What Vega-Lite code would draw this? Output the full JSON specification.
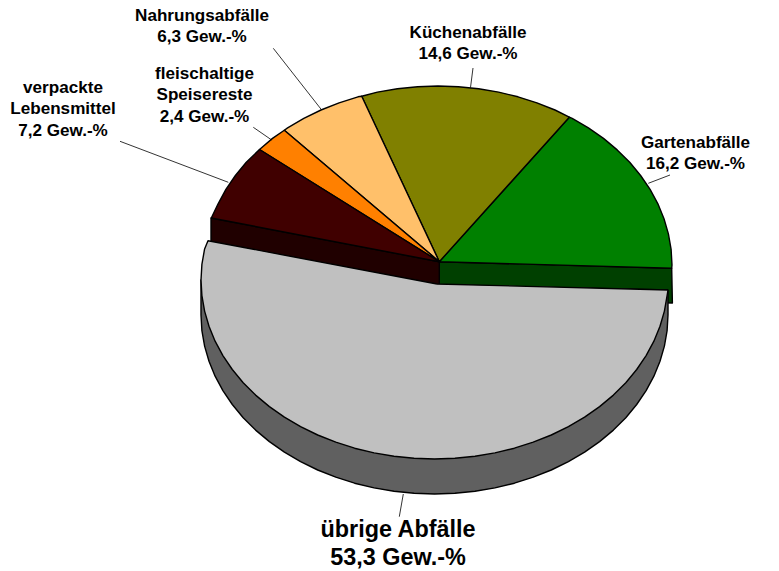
{"$schema":"https://vega.github.io/schema/vega-lite/v6.json","width":779,"height":571,"padding":0,"autosize":"none","background":"white","view":{"stroke":null},
"datasets":{"outline":[
{"s":"Gartenabfälle Wand","i":1,"x":439.3,"y":261.7},{"s":"Gartenabfälle Wand","i":2,"x":671.7,"y":268.3},{"s":"Gartenabfälle Wand","i":3,"x":672.4,"y":303},{"s":"Gartenabfälle Wand","i":4,"x":439.3,"y":297},{"s":"Gartenabfälle Wand","i":5,"x":439.3,"y":261.7},
{"s":"verpackte Lebensmittel Wand","i":6,"x":439.3,"y":261.7},{"s":"verpackte Lebensmittel Wand","i":7,"x":211,"y":218},{"s":"verpackte Lebensmittel Wand","i":8,"x":211,"y":253},{"s":"verpackte Lebensmittel Wand","i":9,"x":439.3,"y":297},{"s":"verpackte Lebensmittel Wand","i":10,"x":439.3,"y":261.7},
{"s":"Gartenabfälle","i":11,"x":439.3,"y":261.7},{"s":"Gartenabfälle","i":12,"x":671.7,"y":268.3},{"s":"Gartenabfälle","i":13,"x":672,"y":265},{"s":"Gartenabfälle","i":14,"x":671.1,"y":249.4},{"s":"Gartenabfälle","i":15,"x":668.4,"y":233.9},{"s":"Gartenabfälle","i":16,"x":664,"y":218.7},{"s":"Gartenabfälle","i":17,"x":657.9,"y":203.8},{"s":"Gartenabfälle","i":18,"x":650.1,"y":189.4},{"s":"Gartenabfälle","i":19,"x":640.6,"y":175.5},{"s":"Gartenabfälle","i":20,"x":629.7,"y":162.3},{"s":"Gartenabfälle","i":21,"x":617.2,"y":149.9},{"s":"Gartenabfälle","i":22,"x":603.5,"y":138.4},{"s":"Gartenabfälle","i":23,"x":588.4,"y":127.9},{"s":"Gartenabfälle","i":24,"x":572.2,"y":118.4},{"s":"Gartenabfälle","i":25,"x":569.3,"y":117.2},{"s":"Gartenabfälle","i":26,"x":439.3,"y":261.7},
{"s":"Küchenabfälle","i":27,"x":439.3,"y":261.7},{"s":"Küchenabfälle","i":28,"x":569.3,"y":117.2},{"s":"Küchenabfälle","i":29,"x":555,"y":110},{"s":"Küchenabfälle","i":30,"x":536.9,"y":102.8},{"s":"Küchenabfälle","i":31,"x":518,"y":96.8},{"s":"Küchenabfälle","i":32,"x":498.6,"y":92.1},{"s":"Küchenabfälle","i":33,"x":478.6,"y":88.7},{"s":"Küchenabfälle","i":34,"x":458.4,"y":86.7},{"s":"Küchenabfälle","i":35,"x":438,"y":86},{"s":"Küchenabfälle","i":36,"x":417.6,"y":86.7},{"s":"Küchenabfälle","i":37,"x":397.4,"y":88.7},{"s":"Küchenabfälle","i":38,"x":377.4,"y":92.1},{"s":"Küchenabfälle","i":39,"x":361.7,"y":96.2},{"s":"Küchenabfälle","i":40,"x":439.3,"y":261.7},
{"s":"Nahrungsabfälle","i":41,"x":439.3,"y":261.7},{"s":"Nahrungsabfälle","i":42,"x":361.7,"y":96.2},{"s":"Nahrungsabfälle","i":43,"x":358,"y":96.8},{"s":"Nahrungsabfälle","i":44,"x":339.1,"y":102.8},{"s":"Nahrungsabfälle","i":45,"x":321,"y":110},{"s":"Nahrungsabfälle","i":46,"x":303.8,"y":118.4},{"s":"Nahrungsabfälle","i":47,"x":287.6,"y":127.9},{"s":"Nahrungsabfälle","i":48,"x":284.3,"y":130.2},{"s":"Nahrungsabfälle","i":49,"x":439.3,"y":261.7},
{"s":"fleischaltige Speisereste","i":50,"x":439.3,"y":261.7},{"s":"fleischaltige Speisereste","i":51,"x":284.3,"y":130.2},{"s":"fleischaltige Speisereste","i":52,"x":272.5,"y":138.4},{"s":"fleischaltige Speisereste","i":53,"x":259.5,"y":149.5},{"s":"fleischaltige Speisereste","i":54,"x":439.3,"y":261.7},
{"s":"verpackte Lebensmittel","i":55,"x":439.3,"y":261.7},{"s":"verpackte Lebensmittel","i":56,"x":259.5,"y":149.5},{"s":"verpackte Lebensmittel","i":57,"x":246.3,"y":162.3},{"s":"verpackte Lebensmittel","i":58,"x":235.4,"y":175.5},{"s":"verpackte Lebensmittel","i":59,"x":225.9,"y":189.4},{"s":"verpackte Lebensmittel","i":60,"x":218.1,"y":203.8},{"s":"verpackte Lebensmittel","i":61,"x":211.3,"y":218},{"s":"verpackte Lebensmittel","i":62,"x":439.3,"y":261.7},
{"s":"übrige Abfälle Wand","i":63,"x":668,"y":290},{"s":"übrige Abfälle Wand","i":64,"x":668,"y":315},{"s":"übrige Abfälle Wand","i":65,"x":667.1,"y":330.6},{"s":"übrige Abfälle Wand","i":66,"x":664.4,"y":346.1},{"s":"übrige Abfälle Wand","i":67,"x":660,"y":361.3},{"s":"übrige Abfälle Wand","i":68,"x":653.9,"y":376.2},{"s":"übrige Abfälle Wand","i":69,"x":646.1,"y":390.6},{"s":"übrige Abfälle Wand","i":70,"x":636.7,"y":404.5},{"s":"übrige Abfälle Wand","i":71,"x":625.8,"y":417.7},{"s":"übrige Abfälle Wand","i":72,"x":613.4,"y":430.1},{"s":"übrige Abfälle Wand","i":73,"x":599.6,"y":441.6},{"s":"übrige Abfälle Wand","i":74,"x":584.6,"y":452.1},{"s":"übrige Abfälle Wand","i":75,"x":568.4,"y":461.6},{"s":"übrige Abfälle Wand","i":76,"x":551.3,"y":470},{"s":"übrige Abfälle Wand","i":77,"x":533.2,"y":477.2},{"s":"übrige Abfälle Wand","i":78,"x":514.4,"y":483.2},{"s":"übrige Abfälle Wand","i":79,"x":494.9,"y":487.9},{"s":"übrige Abfälle Wand","i":80,"x":475,"y":491.3},{"s":"übrige Abfälle Wand","i":81,"x":454.9,"y":493.3},{"s":"übrige Abfälle Wand","i":82,"x":434.5,"y":494},{"s":"übrige Abfälle Wand","i":83,"x":414.1,"y":493.3},{"s":"übrige Abfälle Wand","i":84,"x":394,"y":491.3},{"s":"übrige Abfälle Wand","i":85,"x":374.1,"y":487.9},{"s":"übrige Abfälle Wand","i":86,"x":354.6,"y":483.2},{"s":"übrige Abfälle Wand","i":87,"x":335.8,"y":477.2},{"s":"übrige Abfälle Wand","i":88,"x":317.7,"y":470},{"s":"übrige Abfälle Wand","i":89,"x":300.6,"y":461.6},{"s":"übrige Abfälle Wand","i":90,"x":284.4,"y":452.1},{"s":"übrige Abfälle Wand","i":91,"x":269.4,"y":441.6},{"s":"übrige Abfälle Wand","i":92,"x":255.6,"y":430.1},{"s":"übrige Abfälle Wand","i":93,"x":243.2,"y":417.7},{"s":"übrige Abfälle Wand","i":94,"x":232.3,"y":404.5},{"s":"übrige Abfälle Wand","i":95,"x":222.9,"y":390.6},{"s":"übrige Abfälle Wand","i":96,"x":215.1,"y":376.2},{"s":"übrige Abfälle Wand","i":97,"x":209,"y":361.3},{"s":"übrige Abfälle Wand","i":98,"x":204.6,"y":346.1},{"s":"übrige Abfälle Wand","i":99,"x":201.9,"y":330.6},{"s":"übrige Abfälle Wand","i":100,"x":201,"y":315},{"s":"übrige Abfälle Wand","i":101,"x":201,"y":280},{"s":"übrige Abfälle Wand","i":102,"x":668,"y":290},
{"s":"übrige Abfälle","i":103,"x":437,"y":284},{"s":"übrige Abfälle","i":104,"x":208,"y":240.7},{"s":"übrige Abfälle","i":105,"x":204.6,"y":248.9},{"s":"übrige Abfälle","i":106,"x":201.9,"y":264.4},{"s":"übrige Abfälle","i":107,"x":201,"y":280},{"s":"übrige Abfälle","i":108,"x":201.9,"y":295.6},{"s":"übrige Abfälle","i":109,"x":204.6,"y":311.1},{"s":"übrige Abfälle","i":110,"x":209,"y":326.3},{"s":"übrige Abfälle","i":111,"x":215.1,"y":341.2},{"s":"übrige Abfälle","i":112,"x":222.9,"y":355.6},{"s":"übrige Abfälle","i":113,"x":232.3,"y":369.5},{"s":"übrige Abfälle","i":114,"x":243.2,"y":382.7},{"s":"übrige Abfälle","i":115,"x":255.6,"y":395.1},{"s":"übrige Abfälle","i":116,"x":269.4,"y":406.6},{"s":"übrige Abfälle","i":117,"x":284.4,"y":417.1},{"s":"übrige Abfälle","i":118,"x":300.6,"y":426.6},{"s":"übrige Abfälle","i":119,"x":317.7,"y":435},{"s":"übrige Abfälle","i":120,"x":335.8,"y":442.2},{"s":"übrige Abfälle","i":121,"x":354.6,"y":448.2},{"s":"übrige Abfälle","i":122,"x":374.1,"y":452.9},{"s":"übrige Abfälle","i":123,"x":394,"y":456.3},{"s":"übrige Abfälle","i":124,"x":414.1,"y":458.3},{"s":"übrige Abfälle","i":125,"x":434.5,"y":459},{"s":"übrige Abfälle","i":126,"x":454.9,"y":458.3},{"s":"übrige Abfälle","i":127,"x":475,"y":456.3},{"s":"übrige Abfälle","i":128,"x":494.9,"y":452.9},{"s":"übrige Abfälle","i":129,"x":514.4,"y":448.2},{"s":"übrige Abfälle","i":130,"x":533.2,"y":442.2},{"s":"übrige Abfälle","i":131,"x":551.3,"y":435},{"s":"übrige Abfälle","i":132,"x":568.4,"y":426.6},{"s":"übrige Abfälle","i":133,"x":584.6,"y":417.1},{"s":"übrige Abfälle","i":134,"x":599.6,"y":406.6},{"s":"übrige Abfälle","i":135,"x":613.4,"y":395.1},{"s":"übrige Abfälle","i":136,"x":625.8,"y":382.7},{"s":"übrige Abfälle","i":137,"x":636.7,"y":369.5},{"s":"übrige Abfälle","i":138,"x":646.1,"y":355.6},{"s":"übrige Abfälle","i":139,"x":653.9,"y":341.2},{"s":"übrige Abfälle","i":140,"x":660,"y":326.3},{"s":"übrige Abfälle","i":141,"x":664.4,"y":311.1},{"s":"übrige Abfälle","i":142,"x":667.1,"y":295.6},{"s":"übrige Abfälle","i":143,"x":668,"y":290},{"s":"übrige Abfälle","i":144,"x":437,"y":284}
],
"leaders":[
{"s":"Gartenabfälle","i":1,"x":648.3,"y":183.3},{"s":"Gartenabfälle","i":2,"x":670,"y":175},
{"s":"Küchenabfälle","i":1,"x":470.5,"y":87.5},{"s":"Küchenabfälle","i":2,"x":473,"y":68},
{"s":"Nahrungsabfälle","i":1,"x":321.7,"y":110},{"s":"Nahrungsabfälle","i":2,"x":273.3,"y":48.3},
{"s":"fleischaltige Speisereste","i":1,"x":271.7,"y":140},{"s":"fleischaltige Speisereste","i":2,"x":253.3,"y":127.3},
{"s":"verpackte Lebensmittel","i":1,"x":228.3,"y":182.3},{"s":"verpackte Lebensmittel","i":2,"x":120,"y":141.3},
{"s":"übrige Abfälle","i":1,"x":403.3,"y":494},{"s":"übrige Abfälle","i":2,"x":399.3,"y":516.7}
],
"labels":[
{"label":"Gartenabfälle\n16,2 Gew.-%","share":16.2,"x":695.5,"y":143},
{"label":"Küchenabfälle\n14,6 Gew.-%","share":14.6,"x":468,"y":33},
{"label":"Nahrungsabfälle\n6,3 Gew.-%","share":6.3,"x":202,"y":16},
{"label":"fleischaltige\nSpeisereste\n2,4 Gew.-%","share":2.4,"x":204.5,"y":74.3},
{"label":"verpackte\nLebensmittel\n7,2 Gew.-%","share":7.2,"x":63,"y":88.3}
],
"bigLabel":[{"label":"übrige Abfälle\n53,3 Gew.-%","share":53.3,"x":398,"y":530}]},
"layer":[
{"data":{"name":"outline"},"mark":{"type":"line","stroke":"black","strokeWidth":1.4,"strokeJoin":"round","interpolate":"linear","clip":false},
"encoding":{"x":{"field":"x","type":"quantitative","scale":{"domain":[0,779],"nice":false,"zero":false},"axis":null},
"y":{"field":"y","type":"quantitative","scale":{"domain":[571,0],"nice":false,"zero":false},"axis":null},
"order":{"field":"i","type":"quantitative"},
"detail":{"field":"s"},
"fill":{"field":"s","type":"nominal","legend":null,"scale":{"domain":["Gartenabfälle Wand","verpackte Lebensmittel Wand","Gartenabfälle","Küchenabfälle","Nahrungsabfälle","fleischaltige Speisereste","verpackte Lebensmittel","übrige Abfälle Wand","übrige Abfälle"],"range":["#004000","#200000","#008000","#808000","#FFC06A","#FF8000","#400000","#606060","#C0C0C0"]}}}},
{"data":{"name":"leaders"},"mark":{"type":"line","stroke":"black","strokeWidth":0.8},
"encoding":{"x":{"field":"x","type":"quantitative"},"y":{"field":"y","type":"quantitative"},"order":{"field":"i","type":"quantitative"},"detail":{"field":"s"}}},
{"data":{"name":"labels"},"mark":{"type":"text","font":"Liberation Sans","fontWeight":"bold","fontSize":17.1,"lineBreak":"\n","lineHeight":21.2,"align":"center","baseline":"middle","color":"black"},
"encoding":{"x":{"field":"x","type":"quantitative"},"y":{"field":"y","type":"quantitative"},"text":{"field":"label"}}},
{"data":{"name":"bigLabel"},"mark":{"type":"text","font":"Liberation Sans","fontWeight":"bold","fontSize":23.4,"lineBreak":"\n","lineHeight":28,"align":"center","baseline":"middle","color":"black"},
"encoding":{"x":{"field":"x","type":"quantitative"},"y":{"field":"y","type":"quantitative"},"text":{"field":"label"}}}
]}
